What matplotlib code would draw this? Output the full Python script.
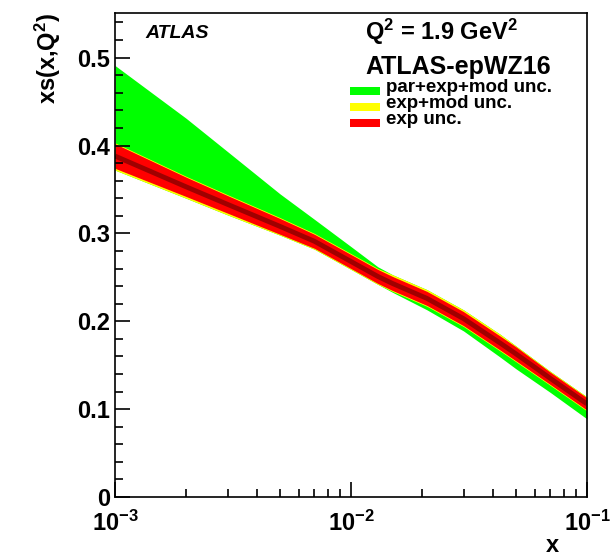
import matplotlib
matplotlib.use("Agg")
import matplotlib.pyplot as plt
from matplotlib.ticker import FixedLocator, LogLocator, NullFormatter, FixedFormatter, MultipleLocator
from matplotlib.patches import Rectangle

plt.rcParams['font.family'] = ['Liberation Sans', 'DejaVu Sans']
plt.rcParams['mathtext.fontset'] = 'custom'
plt.rcParams['mathtext.rm'] = 'Liberation Sans:bold'
plt.rcParams['mathtext.bf'] = 'Liberation Sans:bold'
plt.rcParams['mathtext.it'] = 'Liberation Sans:bold:italic'

# values
x = [0.001, 0.002, 0.003, 0.005, 0.007, 0.01, 0.013, 0.015, 0.021, 0.03, 0.043, 0.05, 0.07, 0.1]
central = [0.388, 0.353, 0.333, 0.308, 0.291, 0.268, 0.251, 0.243, 0.226, 0.203, 0.175, 0.163, 0.135, 0.106]
exp_lo = [0.374, 0.342, 0.323, 0.299, 0.283, 0.260, 0.243, 0.235, 0.218, 0.195, 0.167, 0.155, 0.128, 0.099]
exp_hi = [0.402, 0.364, 0.343, 0.317, 0.299, 0.276, 0.259, 0.251, 0.234, 0.211, 0.183, 0.171, 0.142, 0.113]
mod_lo = [0.372, 0.340, 0.321, 0.298, 0.282, 0.259, 0.242, 0.234, 0.217, 0.194, 0.166, 0.154, 0.127, 0.098]
mod_hi = [0.403, 0.365, 0.344, 0.318, 0.300, 0.277, 0.260, 0.253, 0.236, 0.213, 0.185, 0.172, 0.143, 0.114]
par_lo = [0.372, 0.340, 0.321, 0.298, 0.282, 0.259, 0.242, 0.233, 0.213, 0.189, 0.159, 0.146, 0.119, 0.089]
par_hi = [0.491, 0.431, 0.393, 0.345, 0.316, 0.285, 0.262, 0.253, 0.236, 0.213, 0.185, 0.172, 0.143, 0.114]

legend_labels = ['par+exp+mod unc.', 'exp+mod unc.', 'exp unc.']
legend_colors = ['#00ff00', '#ffff00', '#ff0000']

fig = plt.figure(figsize=(6.12, 5.56), dpi=100)
ax = fig.add_axes([0.188, 0.106, 0.771, 0.871])

ax.fill_between(x, par_lo, par_hi, color='#00ff00', lw=0)
ax.fill_between(x, mod_lo, mod_hi, color='#ffff00', lw=0)
ax.fill_between(x, exp_lo, exp_hi, color='#ff0000', lw=0)
ax.plot(x, central, color='#a00000', lw=3.5, solid_capstyle='butt')

ax.set_xscale('log')
ax.set_xlim(1e-3, 1e-1)
ax.set_ylim(0, 0.551)

ax.xaxis.set_major_locator(FixedLocator([1e-3, 1e-2, 1e-1]))
ax.xaxis.set_major_formatter(FixedFormatter([r'$10^{-3}$', r'$10^{-2}$', r'$10^{-1}$']))
ax.xaxis.set_minor_locator(LogLocator(base=10, subs=range(2, 10)))
ax.xaxis.set_minor_formatter(NullFormatter())
ax.yaxis.set_major_locator(FixedLocator([0, 0.1, 0.2, 0.3, 0.4, 0.5]))
ax.yaxis.set_major_formatter(FixedFormatter(['0', '0.1', '0.2', '0.3', '0.4', '0.5']))
ax.yaxis.set_minor_locator(MultipleLocator(0.02))

ax.tick_params(which='both', direction='in', top=False, right=False, width=1.2)
ax.tick_params(which='major', length=11, labelsize=17)
ax.tick_params(which='minor', length=6)
ax.tick_params(axis='x', pad=10)
for lab in ax.get_yticklabels():
    lab.set_fontweight('bold')
for sp in ax.spines.values():
    sp.set_linewidth(1.2)

ax.set_ylabel(r'xs(x,Q$^{2}$)', fontsize=17, fontweight='bold')
ax.yaxis.set_label_coords(-0.11, 1.0)
ax.yaxis.label.set_horizontalalignment('right')
ax.set_xlabel('x', fontsize=17, fontweight='bold')
ax.xaxis.set_label_coords(0.927, -0.076)

fig.text(145 / 612, 1 - 33 / 556, 'ATLAS', fontsize=14, fontweight='bold',
         fontstyle='italic', va='center')
fig.text(365 / 612, 1 - 32 / 556, r'Q$^{2}$ = 1.9 GeV$^{2}$', fontsize=17,
         fontweight='bold', va='center')
fig.text(365 / 612, 1 - 67 / 556, 'ATLAS-epWZ16', fontsize=18,
         fontweight='bold', va='center')

rows = [87, 103, 119]
for lab, col, yp in zip(legend_labels, legend_colors, rows):
    fig.patches.append(Rectangle((350 / 612, 1 - (yp + 8) / 556), 30 / 612, 8 / 556,
                                 transform=fig.transFigure, color=col, lw=0))
    fig.text(386 / 612, 1 - yp / 556, lab, fontsize=13.5, fontweight='bold', va='center')

fig.savefig('out.png', dpi=100)
